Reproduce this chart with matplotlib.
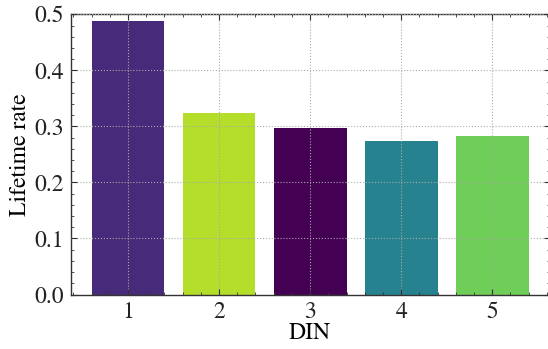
import matplotlib
matplotlib.use("Agg")
import matplotlib.pyplot as plt
from matplotlib.ticker import MultipleLocator

categories = ["1", "2", "3", "4", "5"]
values = [0.488, 0.324, 0.297, 0.274, 0.283]
colors = ["#472a7a", "#b5de2b", "#440154", "#26828e", "#6ece58"]

plt.rcParams['font.family'] = ['STIXGeneral', 'Liberation Serif', 'DejaVu Serif']
plt.rcParams['mathtext.fontset'] = 'stix'

fig = plt.figure(figsize=(5.48, 3.49), dpi=100)
ax = fig.add_axes([70.7/548, 1-294.5/349, (549.5-70.7)/548, (294.5-14.3)/349])

x = list(range(1, len(categories)+1))
ax.bar(x, values, width=0.8, color=colors, zorder=1)
ax.set_axisbelow(False)
ax.grid(True, linestyle=':', color='#aaaaaa', linewidth=0.8, zorder=2)

ax.set_xlim(0.37, 5.63)
ax.set_ylim(0, 0.5)
ax.set_xticks(x)
ax.set_xticklabels(categories)
ax.set_yticks([0.0, 0.1, 0.2, 0.3, 0.4, 0.5])
ax.set_yticklabels(["0.0", "0.1", "0.2", "0.3", "0.4", "0.5"])
ax.xaxis.set_minor_locator(MultipleLocator(0.2))
ax.yaxis.set_minor_locator(MultipleLocator(0.02))
ax.tick_params(which='both', direction='in', top=True, right=True, labelsize=17, colors='#333333', labelcolor='#222222')
ax.tick_params(which='major', length=4, width=0.8, pad=5)
ax.tick_params(which='minor', length=2, width=0.6)
for s in ax.spines.values():
    s.set_linewidth(1.0)
    s.set_color('#333333')

ax.set_xlabel("DIN", fontsize=17, labelpad=0)
ax.set_ylabel("Lifetime rate", fontsize=17, labelpad=2)

fig.savefig("out.png", dpi=100)
